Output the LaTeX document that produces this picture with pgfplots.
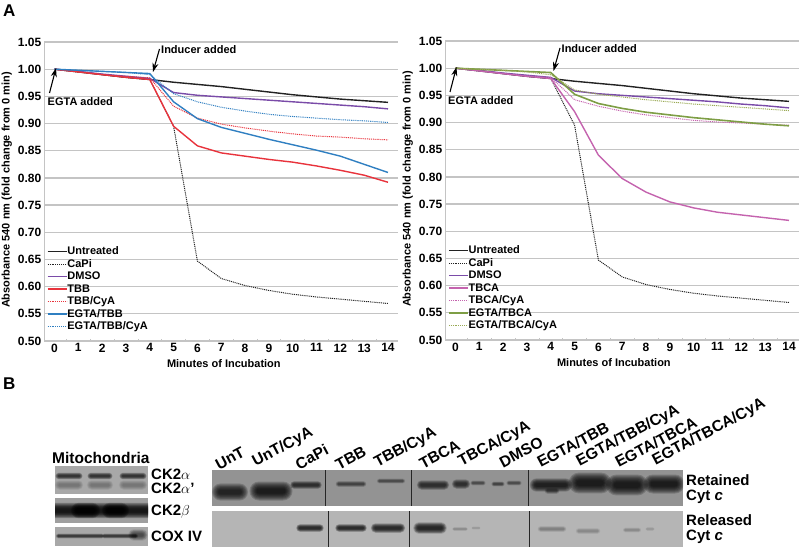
\documentclass[border=0pt]{standalone}
\usepackage{pgfplots}
\usepackage{pgfplotstable}
\usepackage{fontspec}
\setmainfont{Liberation Sans}
\pgfplotsset{compat=1.18}
\usetikzlibrary{arrows.meta}

\definecolor{gridgray}{HTML}{C4C4C4}
\definecolor{cUn}{HTML}{222222}
\definecolor{cDMSO}{HTML}{7A4BA8}
\definecolor{cTBB}{HTML}{E8333C}
\definecolor{cEgTBB}{HTML}{2F7FC1}
\definecolor{cTBCA}{HTML}{C463AE}
\definecolor{cEgTBCA}{HTML}{7E9E45}
\definecolor{cEgTBCAc}{HTML}{9AAA55}

\newcommand{\fs}[1]{\fontsize{#1}{#1}\selectfont\bfseries}

\pgfplotstableread{
min unt capi dmso tbb tbbc eg egc
0 1.000 1.000 1.000 1.000 1.000 1.000 1.000
1 .995 .995 .996 .995 .995 .998 .998
2 .990 .990 .991 .990 .990 .996 .996
3 .985 .985 .987 .985 .987 .994 .994
4 .981 .981 .983 .981 .984 .992 .990
5 .976 .895 .957 .895 .932 .940 .955
6 .972 .647 .952 .859 .910 .909 .940
7 .968 .615 .949 .846 .899 .893 .930
8 .963 .602 .946 .840 .892 .882 .923
9 .958 .593 .943 .834 .886 .871 .917
10 .953 .586 .940 .829 .881 .861 .913
11 .949 .581 .937 .822 .877 .851 .910
12 .945 .577 .934 .814 .875 .840 .907
13 .942 .573 .931 .805 .872 .825 .905
14 .939 .569 .927 .792 .870 .810 .902
}\leftdata

\pgfplotstableread{
min unt capi dmso tbca tbcac eg egc
0 1.000 1.000 1.000 1.000 1.000 1.000 1.000
1 .995 .995 .996 .995 .995 .998 .998
2 .990 .990 .991 .990 .990 .996 .996
3 .985 .985 .987 .985 .986 .994 .993
4 .981 .981 .983 .981 .983 .992 .988
5 .976 .895 .958 .920 .942 .952 .960
6 .972 .647 .953 .840 .930 .935 .952
7 .968 .616 .950 .797 .921 .926 .947
8 .963 .602 .947 .772 .914 .919 .942
9 .958 .593 .944 .754 .909 .914 .938
10 .953 .586 .941 .743 .904 .909 .934
11 .949 .581 .938 .735 .901 .905 .931
12 .945 .577 .934 .730 .899 .901 .928
13 .942 .573 .931 .725 .897 .897 .925
14 .939 .569 .927 .720 .895 .894 .922
}\rightdata

\pgfplotsset{
  panel/.style={
    scale only axis, width=354pt, height=299pt,
    anchor=south west,
    xmin=-0.44, xmax=14.42, ymin=0.5, ymax=1.05,
    xtick={0,1,2,3,4,5,6,7,8,9,10,11,12,13,14},
    minor xtick={0.5,1.5,2.5,3.5,4.5,5.5,6.5,7.5,8.5,9.5,10.5,11.5,12.5,13.5},
    ytick={0.5,0.55,0.6,0.65,0.7,0.75,0.8,0.85,0.9,0.95,1,1.05},
    axis lines*=left,
    axis line style={-,draw=gridgray,line width=1pt},
    ymajorgrids,
    major grid style={draw=gridgray,line width=1.2pt},
    major tick length=0pt, minor tick length=2pt,
    minor tick style={gridgray,line width=0.6pt},
    /pgf/number format/assume math mode=true,
    /pgf/number format/fixed, /pgf/number format/fixed zerofill,
    /pgf/number format/precision=2,
    yticklabel style={font=\fs{12},inner sep=0pt,xshift=-2.5pt},
    xticklabel style={font=\fs{12},inner sep=0pt,yshift=-2.5pt,/pgf/number format/precision=0,/pgf/number format/fixed zerofill=false},
    ylabel={Absorbance 540 nm (fold change from 0 min)},
    xlabel={Minutes of Incubation},
    every axis y label/.style={rotate=90,anchor=center,font=\fs{11},at={(axis description cs:-0.105,0.505)}},
    legend style={draw=none,fill=none,at={(0.0085,0.316)},anchor=north west,
      font=\fs{11},inner sep=0pt,outer sep=0pt,row sep=2.5pt,
      nodes={inner sep=0pt,text height=8pt,text depth=2pt},
      /tikz/every even column/.style={column sep=1.5pt}},
    legend cell align=left,
    legend image code/.code={\draw[##1] (0pt,0pt) -- (19pt,0pt);},
    line join=round,
  },
  solidser/.style={line width=1.4pt,no markers},
  dotser/.style={line width=1pt,no markers,dash pattern=on 1pt off 0.9pt},
}

% soft blot band, nested pills: centre x, centre y, width, height, strength
\newcommand{\band}[5]{%
  \foreach \k in {1.9,1.7,1.5,1.3,1.1,0.9,0.7,0.5}{%
    \pgfmathsetmacro{\hw}{#3/2+(\k-1)*#4/2}%
    \pgfmathsetmacro{\hh}{#4/2*\k}%
    \fill[black,opacity=0.13*#5,rounded corners=\hh pt]
      (#1-\hw,#2-\hh) rectangle (#1+\hw,#2+\hh);
  }%
}

\begin{document}
\begin{tikzpicture}
\path[use as bounding box] (0,0) rectangle (800pt,-548pt);

% left chart
\begin{axis}[panel,at={(44pt,-341pt)},
  every axis x label/.style={anchor=center,font=\fs{11},at={(axis description cs:0.508,-0.074)}}]
  \addplot[solidser,cUn] table[x=min,y=unt] {\leftdata};
  \addplot[dotser,cUn] table[x=min,y=capi] {\leftdata};
  \addplot[solidser,cDMSO] table[x=min,y=dmso] {\leftdata};
  \addplot[solidser,cTBB] table[x=min,y=tbb] {\leftdata};
  \addplot[dotser,cTBB] table[x=min,y=tbbc] {\leftdata};
  \addplot[solidser,cEgTBB] table[x=min,y=eg] {\leftdata};
  \addplot[dotser,cEgTBB] table[x=min,y=egc] {\leftdata};
  \legend{Untreated,CaPi,DMSO,TBB,TBB/CyA,EGTA/TBB,EGTA/TBB/CyA}
\end{axis}

% right chart
\begin{axis}[panel,at={(445pt,-340pt)},
  every axis x label/.style={anchor=center,font=\fs{11},at={(axis description cs:0.477,-0.074)}}]
  \addplot[solidser,cUn] table[x=min,y=unt] {\rightdata};
  \addplot[dotser,cUn] table[x=min,y=capi] {\rightdata};
  \addplot[solidser,cDMSO] table[x=min,y=dmso] {\rightdata};
  \addplot[solidser,cTBCA] table[x=min,y=tbca] {\rightdata};
  \addplot[dotser,cTBCA] table[x=min,y=tbcac] {\rightdata};
  \addplot[solidser,cEgTBCA,line width=1.6pt] table[x=min,y=eg] {\rightdata};
  \addplot[dotser,cEgTBCAc] table[x=min,y=egc] {\rightdata};
  \legend{Untreated,CaPi,DMSO,TBCA,TBCA/CyA,EGTA/TBCA,EGTA/TBCA/CyA}
\end{axis}

\begin{scope}[x=1pt,y=-1pt]
  \node[anchor=west,inner sep=0pt,font=\fs{17}] at (3,11) {A};
  \node[anchor=west,inner sep=0pt,font=\fs{17}] at (3,384) {B};

  % annotations
  \foreach \dx/\dy in {0/0,400.5/-1}{
    \begin{scope}[shift={(\dx,\dy)}]
      \node[anchor=west,inner sep=0pt,font=\fs{11}] at (161,49.5) {Inducer added};
      \draw[line width=1.1pt,-{Stealth[length=9pt,width=6pt]}] (159.5,49) -- (153,72);
      \node[anchor=west,inner sep=0pt,font=\fs{11}] at (47.5,102) {EGTA added};
      \draw[line width=1.1pt,-{Stealth[length=9pt,width=6pt]}] (49.5,93) -- (56,68);
    \end{scope}
  }

  % mitochondria blots
  \node[anchor=west,inner sep=0pt,font=\fs{15.5}] at (52,458) {Mitochondria};
  \begin{scope}
    \clip (55,466) rectangle (148,494) (55,498) rectangle (148,523) (55,527) rectangle (148,546);
    \fill[gray!68] (55,466) rectangle (148,494);
    \fill[gray!75] (55,498) rectangle (148,523);
    \fill[gray!68] (55,527) rectangle (148,546);
    \foreach \c/\w in {69/24,100/22,133/24}{
      \band{\c}{476}{\w}{3.5}{1}
      \band{\c}{485}{\w}{5}{0.3}
      \band{\c}{510.5}{\w+7}{8}{1.6}
    }
    \band{80}{536}{46}{2.5}{0.9}
    \band{120}{536}{34}{2.5}{0.9}
    \band{138}{535}{14}{6}{0.7}
  \end{scope}
  \node[anchor=west,inner sep=0pt,font=\fs{15}] at (151,474.5) {CK2$\alpha$};
  \node[anchor=west,inner sep=0pt,font=\fs{15}] at (151,488.5) {CK2$\alpha$'};
  \node[anchor=west,inner sep=0pt,font=\fs{15}] at (151,512) {CK2$\beta$};
  \node[anchor=west,inner sep=0pt,font=\fs{15}] at (151,536) {COX IV};

  % cytochrome c blots
  \begin{scope}
    \clip (212,470) rectangle (683,506) (212,511) rectangle (683,547);
    \fill[gray!85] (212,470) rectangle (683,506);
    \fill[gray!58] (212,511) rectangle (683,547);
    \band{230}{492}{28}{9}{1.2}
    \band{271}{491}{34}{10}{1.4}
    \band{306}{485}{28}{4}{1}
    \band{351}{484}{28}{3}{0.7}
    \band{391}{481}{26}{2.5}{0.6}
    \band{433}{485}{28}{5}{1}
    \band{461}{484}{14}{5}{1}
    \band{478}{483}{13}{2.5}{0.6}
    \band{498}{484}{11}{2.5}{0.7}
    \band{514}{483}{13}{2.5}{0.6}
    \band{551}{485}{36}{7}{1.3}
    \band{552}{491}{12}{3}{0.6}
    \band{590}{483}{33}{11}{1.4}
    \band{627}{485}{32}{11}{1.4}
    \band{664}{484}{32}{10}{1.4}
    \band{310}{528}{24}{4}{1.2}
    \band{351}{528}{28}{4}{1.2}
    \band{388}{528}{30}{5}{1.2}
    \band{430}{528}{28}{6}{1.3}
    \band{460}{529}{14}{2}{0.25}
    \band{476}{528}{8}{1.5}{0.15}
    \band{552}{529}{26}{3}{0.3}
    \band{588}{531}{22}{3}{0.25}
    \band{632}{530}{16}{2.5}{0.25}
    \band{650}{529}{8}{2}{0.15}
  \end{scope}
  \draw[black!85,line width=0.8pt] (325,470) -- (325,506) (411,470) -- (411,506) (528,470) -- (528,506);
  \draw[black!85,line width=0.8pt] (328,511) -- (328,547) (409,511) -- (409,547) (529,511) -- (529,547);

  \foreach \x/\y/\t in {219/470.5/UnT,257/469.5/UnT\slash CyA,299/470.5/CaPi,339/470.5/TBB,379/470.5/TBB\slash CyA,
      423/469.5/TBCA,463/469.5/TBCA\slash CyA,503/468.5/DMSO,541/468.5/EGTA\slash TBB,581/469.5/EGTA\slash TBB\slash CyA,
      619/468.5/EGTA\slash TBCA,657/468.5/EGTA\slash TBCA\slash CyA}{
    \node[anchor=south west,rotate=28,inner sep=0pt,font=\fs{15.6}] at (\x,\y) {\t};
  }
  \node[anchor=west,inner sep=0pt,font=\fs{15}] at (686,480.5) {Retained};
  \node[anchor=west,inner sep=0pt,font=\fs{15}] at (686,497) {Cyt \textit{c}};
  \node[anchor=west,inner sep=0pt,font=\fs{15}] at (686,520) {Released};
  \node[anchor=west,inner sep=0pt,font=\fs{15}] at (686,536.5) {Cyt \textit{c}};
\end{scope}
\end{tikzpicture}
\end{document}
